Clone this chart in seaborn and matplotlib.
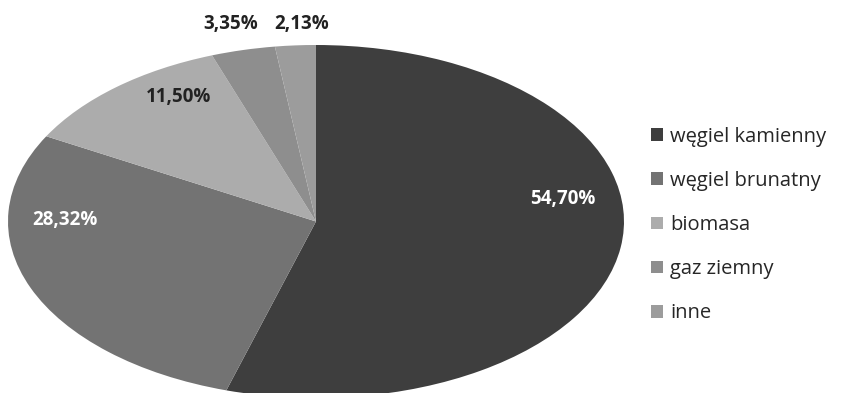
import numpy as np
import matplotlib
matplotlib.use("Agg")
import matplotlib.pyplot as plt
import seaborn as sns

# data
categories = ["węgiel kamienny", "węgiel brunatny", "biomasa", "gaz ziemny", "inne"]
shares = [54.70, 28.32, 11.50, 3.35, 2.13]
pct_labels = ["54,70%", "28,32%", "11,50%", "3,35%", "2,13%"]

# styling / layout
slice_colors = ["#3e3e3e", "#737373", "#acacac", "#8e8e8e", "#9c9c9c"]
label_colors = ["white", "white", "#222222", "#222222", "#222222"]
label_xy = [(0.80, 0.13), (-0.815, 0.01), (-0.447, 0.705), (-0.276, 1.12), (-0.045, 1.12)]

sns.set_theme(style="white")
plt.rcParams["font.family"] = ["Open Sans", "DejaVu Sans"]

fig = plt.figure(figsize=(8.51, 3.93), dpi=100)
W, H = 851, 393
# pie ellipse: x 8..624 px, y 45..398 px
ax = fig.add_axes([8 / W, (H - 398) / H, 616 / W, 353 / H])

wedges, _ = ax.pie(shares, colors=slice_colors, startangle=90, counterclock=False,
                   wedgeprops=dict(linewidth=0), radius=1.0, frame=False)
ax.set_aspect("auto")
ax.set_xlim(-1, 1)
ax.set_ylim(-1, 1)
ax.axis("off")

for txt, (x, y), c in zip(pct_labels, label_xy, label_colors):
    ax.text(x, y, txt, ha="center", va="center", fontsize=13.5, fontweight="bold",
            color=c, clip_on=False)

leg = fig.legend(wedges, categories, loc="center left", bbox_to_anchor=(651 / W, 1 - 225 / H),
                 frameon=False, fontsize=14.5, handlelength=0.6, handleheight=0.6,
                 handletextpad=0.35, labelspacing=1.2, borderpad=0, borderaxespad=0)

plt.savefig("out.png", dpi=100)
